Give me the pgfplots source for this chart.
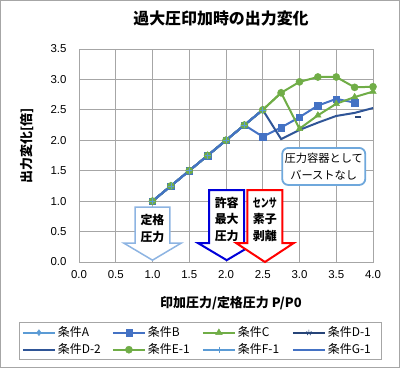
\documentclass[border=0pt]{standalone}
\usepackage{fontspec}
\setmainfont{Liberation Sans}
\newfontfamily\jp{Noto Sans CJK JP}
\usepackage{graphicx}
\usepackage{pgfplots}
\pgfplotsset{compat=1.18}
\usetikzlibrary{calc}
\definecolor{gridgray}{HTML}{A6A6A6}
\definecolor{cA}{HTML}{5B9BD5}
\definecolor{cB}{HTML}{4472C4}
\definecolor{cC}{HTML}{70AD47}
\definecolor{cD1}{HTML}{264478}
\definecolor{cD2}{HTML}{2F5597}
\definecolor{cE}{HTML}{70AD47}
\definecolor{cF}{HTML}{5B9BD5}
\definecolor{cG}{HTML}{4472C4}
\definecolor{arrLB}{HTML}{8DB4E2}
\definecolor{calloutB}{HTML}{6FA8DC}
\begin{document}
\begin{tikzpicture}
\begin{axis}[name=ax, scale only axis, width=294bp, height=213bp,
 xmin=0, xmax=4, ymin=0, ymax=3.5,
 xtick={0,0.5,1,1.5,2,2.5,3,3.5,4},
 ytick={0,0.5,1,1.5,2,2.5,3,3.5},
 grid=major, major grid style={color=gridgray, line width=0.8bp},
 axis line style={gridgray, line width=0.8bp},
 major tick length=0pt,
 clip=false,
 tick label style={font=\fontsize{11.5}{13}\selectfont, /pgf/number format/assume math mode=true,
   /pgf/number format/fixed, /pgf/number format/fixed zerofill, /pgf/number format/precision=1},
 yticklabel style={xshift=-9bp},
 xticklabel style={yshift=-5bp},
 title={\jp\bfseries 過大圧印加時の出力変化},
 title style={font=\fontsize{16}{18}\selectfont, at={(axis description cs:0.483,1.113)}, anchor=center},
 xlabel={\jp\bfseries 印加圧力/定格圧力 P/P0},
 xlabel style={font=\fontsize{13}{15}\selectfont, at={(axis description cs:0.517,-0.192)}, anchor=center},
 ylabel={\jp\bfseries 出力変化[倍]},
 ylabel style={font=\fontsize{13}{15}\selectfont, at={(axis description cs:-0.177,0.545)}, anchor=center, rotate=0},
 legend columns=4,
 legend style={at={(0.413,-0.284)}, anchor=north, draw=gridgray, line width=0.8bp,
   font=\jp\fontsize{12}{14}\selectfont, row sep=1.5bp,
   /tikz/every even column/.append style={column sep=3bp}},
 legend cell align=left,
 legend image code/.code={\draw[mark repeat=2,mark phase=2] plot coordinates {(0bp,0bp)(16bp,0bp)(32bp,0bp)};},
 every axis plot/.append style={line width=2bp},
]
\addplot[color=cA, mark=diamond*, mark size=3bp, mark options={solid, fill=cA, line width=0.4bp}]
 coordinates {(1.0,1.0)(1.25,1.25)(1.5,1.5)(1.75,1.75)(2.0,2.0)(2.25,2.25)(2.5,2.5)};
\addlegendentry{\makebox[49bp][l]{条件A}}
\addplot[color=cB, mark=square*, mark size=3.2bp, mark options={solid, fill=cB, line width=0.4bp}]
 coordinates {(1.0,1.0)(1.25,1.25)(1.5,1.5)(1.75,1.75)(2.0,2.0)(2.25,2.25)(2.5,2.06)(2.75,2.21)(3.0,2.38)(3.25,2.57)(3.5,2.68)(3.75,2.62)};
\addlegendentry{\makebox[49bp][l]{条件B}}
\addplot[color=cC, mark=triangle*, mark size=3.8bp, mark options={solid, fill=cC, line width=0.4bp}]
 coordinates {(1.0,1.0)(1.25,1.25)(1.5,1.5)(1.75,1.75)(2.0,2.0)(2.25,2.25)(2.5,2.5)(2.75,2.78)(3.0,2.19)(3.25,2.41)(3.5,2.6)(3.75,2.71)(4.0,2.8)};
\addlegendentry{\makebox[49bp][l]{条件C}}
\addplot[color=cD1, mark=star, mark size=3bp, mark options={solid, line width=0.6bp}]
 coordinates {(1.0,1.0)(1.25,1.25)(1.5,1.5)(1.75,1.75)(2.0,2.0)(2.25,2.25)(2.5,2.5)};
\addlegendentry{\makebox[49bp][l]{条件D-1}}
\addplot[color=cD2, no marks]
 coordinates {(1.0,1.0)(1.25,1.25)(1.5,1.5)(1.75,1.75)(2.0,2.0)(2.25,2.25)(2.5,2.5)(2.75,2.02)(3.0,2.17)(3.25,2.29)(3.5,2.4)(3.75,2.45)(4.0,2.53)};
\addlegendentry{\makebox[49bp][l]{条件D-2}}
\addplot[color=cE, mark=*, mark size=3.6bp, mark options={solid, fill=cE, line width=0.4bp}]
 coordinates {(1.0,1.0)(1.25,1.25)(1.5,1.5)(1.75,1.75)(2.0,2.0)(2.25,2.25)(2.5,2.5)(2.75,2.78)(3.0,2.96)(3.25,3.04)(3.5,3.04)(3.75,2.87)(4.0,2.88)};
\addlegendentry{\makebox[49bp][l]{条件E-1}}
\addplot[color=cF, mark=+, mark size=3bp, mark options={solid, line width=0.6bp}]
 coordinates {(1.0,1.0)(1.25,1.25)(1.5,1.5)(1.75,1.75)(2.0,2.0)(2.25,2.25)(2.5,2.5)};
\addlegendentry{\makebox[49bp][l]{条件F-1}}
\addplot[color=cG, no marks]
 coordinates {(1.0,1.0)(1.25,1.25)(1.5,1.5)(1.75,1.75)(2.0,2.0)(2.25,2.25)(2.5,2.5)};
\addlegendentry{\makebox[49bp][l]{条件G-1}}
\addplot[forget plot, only marks, color=cD1, mark=-, mark size=3bp, mark options={line width=1.5bp}]
 coordinates {(3.8,2.38)};
% arrows
\draw[arrLB, line width=1.5bp, fill=white, line join=miter]
 (axis cs:0.762,0.9) -- (axis cs:1.238,0.9) -- (axis cs:1.238,0.31) -- (axis cs:1.39,0.31) -- (axis cs:1.0,0.03) -- (axis cs:0.61,0.31) -- (axis cs:0.762,0.31) -- cycle;
\node[align=center, font=\jp\bfseries\fontsize{12}{16.5}\selectfont] at (axis cs:1.0,0.55) {定格\\圧力};
\draw[blue!85!black, line width=2bp, fill=white, line join=miter]
 (axis cs:1.772,1.18) -- (axis cs:2.248,1.18) -- (axis cs:2.248,0.31) -- (axis cs:2.40,0.31) -- (axis cs:2.01,0.03) -- (axis cs:1.62,0.31) -- (axis cs:1.772,0.31) -- cycle;
\node[align=center, font=\jp\bfseries\fontsize{12}{16.5}\selectfont] at (axis cs:2.01,0.70) {許容\\最大\\圧力};
\draw[red, line width=2bp, fill=white, line join=miter]
 (axis cs:2.292,1.18) -- (axis cs:2.768,1.18) -- (axis cs:2.768,0.31) -- (axis cs:2.92,0.31) -- (axis cs:2.53,0.0) -- (axis cs:2.14,0.31) -- (axis cs:2.292,0.31) -- cycle;
\node[align=center, font=\jp\bfseries\fontsize{12}{16.5}\selectfont] at (axis cs:2.53,0.70) {\scalebox{0.67}[1]{センサ}\\素子\\剥離};
% callout
\node[draw=calloutB, line width=1.8bp, fill=white, rounded corners=6bp, minimum width=83bp, minimum height=37bp,
 align=center, inner sep=1bp, font=\jp\fontsize{11.3}{16.5}\selectfont] at (axis cs:3.33,1.57) {圧力容器として\\バーストなし};
\end{axis}
\draw[gridgray, line width=1.5bp] ($(ax.south west)+(-78.25bp,-105.25bp)$) rectangle ($(ax.south west)+(320.25bp,261.25bp)$);
\end{tikzpicture}
\end{document}
